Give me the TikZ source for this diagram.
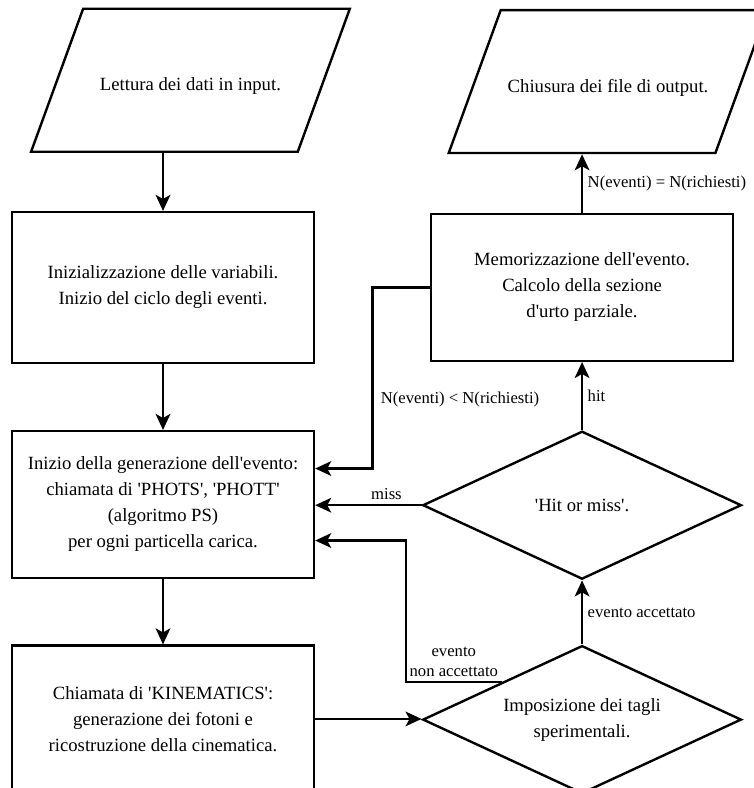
\documentclass[tikz,border=0pt]{standalone}
\usepackage{fontspec}
\setmainfont{Liberation Serif}[Ligatures=TeXOff]
\usetikzlibrary{arrows.meta,positioning,shapes.geometric}

\begin{document}
\begin{tikzpicture}[>={Stealth[length=12pt,width=11pt,inset=3pt]},node distance=50pt,line width=1.8pt]
  \tikzstyle{box}=[draw,minimum width=226.5pt,minimum height=110pt,align=center,font=\fontsize{14}{19.5}\selectfont]
  \tikzstyle{io}=[draw,trapezium,trapezium left angle=70,trapezium right angle=110,text width=161pt,text height=16pt,text depth=0pt,inner xsep=0pt,inner ysep=45.6pt,align=flush center,font=\fontsize{14}{19.5}\selectfont]
  \tikzstyle{test}=[draw,diamond,aspect=2.15,minimum width=239pt,minimum height=111pt,inner sep=1pt,align=center,font=\fontsize{14}{19.5}\selectfont]
  \tikzstyle{lbl}=[font=\fontsize{12.5}{15}\selectfont,align=center]
  \useasboundingbox (-122.25pt,215.6pt) rectangle (442.5pt,-375.4pt);
  % colonna di sinistra
  \node[box,minimum height=113pt] (init) {Inizializzazione delle variabili.\\Inizio del ciclo degli eventi.};
  \node[io,above=43.5pt of init,xshift=20.6pt] (input) {Lettura dei dati in input.};
  \node[box,below=49.5pt of init] (gen) {Inizio della generazione dell'evento:\\chiamata di 'PHOTS', 'PHOTT'\\(algoritmo PS)\\per ogni particella carica.};
  \node[box,below=49pt of gen] (kin) {Chiamata di 'KINEMATICS':\\generazione dei fotoni e\\ricostruzione della cinematica.};
  % colonna di destra
  \node[box,right=86pt of init] (mem) {Memorizzazione dell'evento.\\Calcolo della sezione\\d'urto parziale.};
  \node[io,above=44pt of mem,xshift=19.5pt] (output) {Chiusura dei file di output.};
  \node[test,below=51pt of mem] (hitmiss) {'Hit or miss'.};
  \node[test,below=48pt of hitmiss] (cuts) {Imposizione dei tagli\\sperimentali.};
  % frecce
  \draw[->] (init.north |- input.south) -- (init.north);
  \draw[->] (init) -- (gen);
  \draw[->] (gen) -- (kin);
  \draw[->] (kin.east) -- (kin.east -| cuts.west);
  \draw[->] (cuts) -- node[lbl,right] {evento accettato} (hitmiss);
  \draw[->] (hitmiss) -- node[lbl,right] {hit} (mem);
  \draw[->] (mem.north) -- node[lbl,right] {N(eventi) = N(richiesti)} (mem.north |- output.south);
  \draw[->] (hitmiss.west) -- node[lbl,above,pos=0.33] {miss} (hitmiss.west -| gen.east);
  \draw[->] (mem.west) -- ++(-43pt,0) |- node[lbl,right,pos=0.31,xshift=2pt] {N(eventi) < N(richiesti)} ([yshift=27pt]gen.east);
  \draw[->] (cuts.north west) -- node[lbl,above] {evento\\non accettato} ++(-72pt,0) |- ([yshift=-27pt]gen.east);
\end{tikzpicture}
\end{document}
